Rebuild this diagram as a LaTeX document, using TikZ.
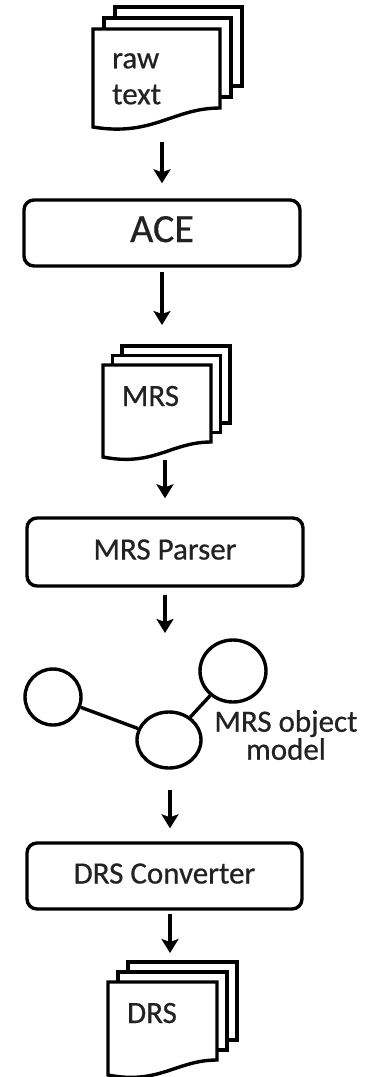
\documentclass[tikz,border=0pt]{standalone}
\usepackage{fontspec}
\setmainfont{Carlito}[FakeBold=0.6]
\newfontfamily\mainfb{Carlito}[FakeBold=0.6]
\usetikzlibrary{arrows.meta,shapes.geometric}
\definecolor{txt}{HTML}{222222}
\tikzset{
  ln/.style={line width=3.4pt, draw=black},
  sheet/.style={ln, fill=white, line join=miter},
  procbox/.style={ln, rounded corners=10pt, minimum width=276pt, minimum height=66pt,
    inner sep=0pt, text=txt, font=\mainfb\fontsize{31}{36}\selectfont, text height=20pt, text depth=5pt},
  arr/.style={ln, -{Stealth[length=14pt,width=17pt,inset=3pt]}},
  obj/.style={ln, ellipse, inner sep=0pt},
  lbl/.style={text=txt, font=\mainfb\fontsize{31}{36}\selectfont, inner sep=0pt},
  hold/.style={draw=none, inner sep=0pt, outer sep=0pt, anchor=north west},
}
% #1 L, #2 T, #3 W, #4 left height, #5 right height, #6 offset
\newcommand\docstack[6]{%
  \begin{scope}[shift={(#1,#2)}]
    \filldraw[sheet] (2*#6,-2*#6) rectangle ++(#3,#5);
    \filldraw[sheet] (#6,-#6) rectangle ++(#3,#5);
    \filldraw[sheet] (0,0) -- (#3,0) -- (#3,#5) .. controls (0.63*#3,#5) and (0.47*#3,#4+10) .. (0,#4) -- cycle;
  \end{scope}}
\begin{document}
\begin{tikzpicture}[x=1pt,y=-1pt]
  \fill[white] (0,0) rectangle (368,1077);
  \useasboundingbox (0,0) rectangle (368,1077);

  % raw text stack
  \docstack{93}{29}{127}{98}{79}{11}
  \node[hold, minimum width=127pt, minimum height=98pt] (rawdoc) at (93,29) {};
  \node[lbl, align=left, anchor=north west, font=\mainfb\fontsize{31}{36}\selectfont] (rawlabel) at (112,53) {raw\\text};

  % ACE
  \node[procbox, font=\mainfb\fontsize{40}{44}\selectfont, text height=26pt, text depth=8pt] (ace) at (162,233) {ACE};

  % MRS stack
  \docstack{103}{365}{108}{92}{77}{9.5}
  \node[hold, minimum width=108pt, minimum height=92pt] (mrsdoc) at (103,365) {};
  \node[lbl, anchor=base] (mrslabel) at (150.5,406) {MRS};

  % MRS Parser
  \node[procbox, minimum height=68pt] (parser) at (165,552) {MRS Parser};

  % object model graph
  \node[obj, minimum width=56pt, minimum height=56pt] (c1) at (53,697) {};
  \node[obj, minimum width=64pt, minimum height=56pt] (c2) at (169,740) {};
  \node[obj, minimum width=66pt, minimum height=62pt] (c3) at (233,671) {};
  \draw[ln] (c1) -- (c2);
  \draw[ln] (c2) -- (c3);
  \node[lbl, align=center, anchor=north, font=\mainfb\fontsize{31}{28}\selectfont] (objlabel) at (286,710) {MRS object\\model};
  \coordinate (gin) at (165,633);
  \coordinate (gout) at (170,790);

  % DRS Converter
  \node[procbox, minimum width=275pt] (conv) at (164.5,876) {DRS Converter};

  % DRS stack
  \docstack{108}{982}{109}{93}{78}{10}
  \node[hold, minimum width=109pt, minimum height=93pt] (drsdoc) at (108,982) {};
  \node[lbl, anchor=base] (drslabel) at (152,1023) {DRS};

  % arrows
  \draw[arr, shorten <=15pt, shorten >=15pt] (rawdoc.south -| ace.north) -- (ace.north);
  \draw[arr, shorten <=4pt, shorten >=40pt] (ace.south) -- (ace.south |- mrsdoc.north);
  \draw[arr, shorten <=3pt, shorten >=18pt] (mrsdoc.south -| parser.north) -- (parser.north);
  \draw[arr, shorten <=7pt] (parser.south) -- (gin);
  \draw[arr, shorten >=13pt] (gout) -- (gout |- conv.north);
  \draw[arr, shorten <=3pt, shorten >=29pt] (conv.south -| gout) -- (gout |- drsdoc.north);
\end{tikzpicture}
\end{document}
